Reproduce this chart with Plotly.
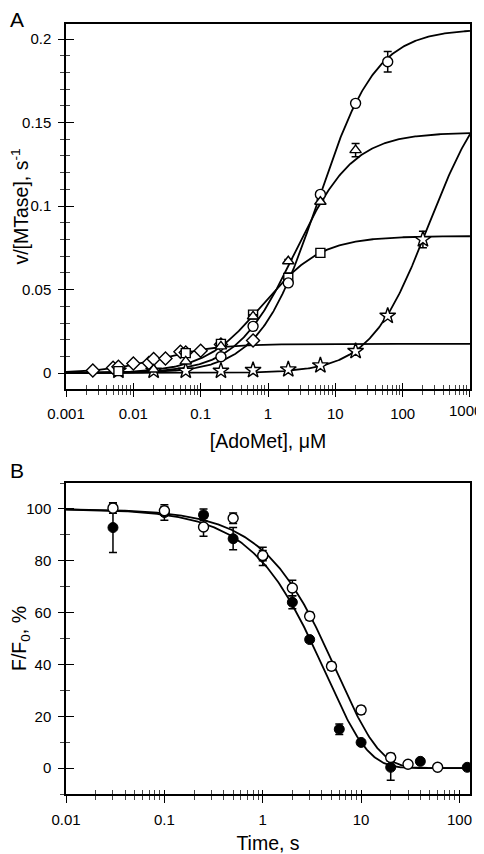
import numpy as np
import plotly.graph_objects as go

# ---------------- Panel A data ----------------
circ_x = [0.2, 0.6, 2, 6, 20, 60]
circ_y = [0.0098, 0.028, 0.054, 0.107, 0.1615, 0.1864]
circ_e = [0.0, 0.002, 0.002, 0.001, 0.001, 0.0062]

tri_x = [0.02, 0.06, 0.2, 0.6, 2, 6, 20]
tri_y = [0.0022, 0.007, 0.016, 0.034, 0.067, 0.1026, 0.1335]
tri_e = [0, 0, 0, 0.001, 0.001, 0.001, 0.004]

sq_x = [0.006, 0.06, 0.2, 0.6, 2, 6]
sq_y = [0.0012, 0.012, 0.0175, 0.035, 0.057, 0.072]
sq_e = [0, 0, 0, 0.001, 0.003, 0.001]

dia_x = [0.0025, 0.005, 0.006, 0.01, 0.017, 0.02, 0.03, 0.05, 0.06, 0.1, 0.2, 0.6]
dia_y = [0.0016, 0.0032, 0.0038, 0.0058, 0.006, 0.0084, 0.0088, 0.0128, 0.0124, 0.0134, 0.0172, 0.0196]

star_x = [0.006, 0.02, 0.06, 0.2, 0.6, 2, 6, 20, 60, 200]
star_y = [0.0014, 0.0014, 0.0014, 0.0014, 0.0018, 0.0022, 0.0046, 0.0132, 0.0343, 0.080]
star_e = [0, 0, 0, 0, 0, 0, 0, 0, 0.001, 0.005]

# hyperbolic fit parameters (Vmax, K) for the fitted curves
fit_vmax = {"circle": 0.206, "triangle": 0.144, "square": 0.082, "diamond": 0.0175, "star": 0.178}
fit_k = {"circle": 5.5, "triangle": 2.5, "square": 0.83, "diamond": 0.025, "star": 245}

xA_ticks = [0.001, 0.01, 0.1, 1, 10, 100, 1000]
xA_labels = ["0.001", "0.01", "0.1", "1", "10", "100", ""]
xA_last_label = "1000"
yA_ticks = [0, 0.05, 0.1, 0.15, 0.2]
yA_labels = ["0", "0.05", "0.1", "0.15", "0.2"]

# ---------------- Panel B data ----------------
open_t = [0.03, 0.1, 0.25, 0.5, 1, 2, 3, 5, 10, 20, 30, 60]
open_y = [100.3, 99.3, 93, 96.4, 82, 69.5, 58.6, 39.3, 22.4, 4.1, 1.5, 0.3]
open_e = [2, 1.5, 3.5, 2, 2, 3, 1.5, 1.5, 1.5, 1.5, 0.5, 0.5]

fill_t = [0.03, 0.1, 0.25, 0.5, 1, 2, 3, 6, 10, 20, 40, 120]
fill_y = [92.8, 98.6, 97.7, 88.5, 81.7, 64, 49.6, 15, 9.9, 0.3, 2.6, 0.3]
fill_e = [9.6, 3, 2.3, 4.3, 3.5, 2.5, 1, 2, 1, 5, 1, 0.5]

# exponential decay rate constants for fitted curves
k_open = 0.175
k_fill = 0.231

xB_ticks = [0.01, 0.1, 1, 10, 100]
xB_labels = ["0.01", "0.1", "1", "10", "100"]
yB_ticks = [0, 20, 40, 60, 80, 100]
yB_labels = ["0", "20", "40", "60", "80", "100"]

FONT = "Liberation Sans, Arial, sans-serif"
fig = go.Figure()

# fitted curves, panel A
xc = np.logspace(-3, 3, 400)
for name in ["circle", "triangle", "square", "diamond", "star"]:
    yc = fit_vmax[name] * xc / (fit_k[name] + xc)
    fig.add_trace(go.Scatter(x=xc, y=yc, mode="lines", line=dict(color="black", width=1.8),
                             xaxis="x", yaxis="y", showlegend=False, hoverinfo="skip"))

def err(vals):
    return dict(type="data", array=vals, visible=True, color="black", thickness=1.5, width=4)

mk = dict(color="white", line=dict(color="black", width=1.4))
fig.add_trace(go.Scatter(x=star_x, y=star_y, mode="markers", error_y=err(star_e),
                         marker=dict(symbol="star", size=12, **mk), xaxis="x", yaxis="y", showlegend=False))
fig.add_trace(go.Scatter(x=dia_x, y=dia_y, mode="markers",
                         marker=dict(symbol="diamond", size=10, **mk), xaxis="x", yaxis="y", showlegend=False))
fig.add_trace(go.Scatter(x=sq_x, y=sq_y, mode="markers", error_y=err(sq_e),
                         marker=dict(symbol="square", size=9, **mk), xaxis="x", yaxis="y", showlegend=False))
fig.add_trace(go.Scatter(x=circ_x, y=circ_y, mode="markers", error_y=err(circ_e),
                         marker=dict(symbol="circle", size=10, **mk), xaxis="x", yaxis="y", showlegend=False))
fig.add_trace(go.Scatter(x=tri_x, y=tri_y, mode="markers", error_y=err(tri_e),
                         marker=dict(symbol="triangle-up", size=10, **mk), xaxis="x", yaxis="y", showlegend=False))

# panel B curves
tc = np.logspace(-2, np.log10(130), 400)
for kk in [k_fill, k_open]:
    fig.add_trace(go.Scatter(x=tc, y=100 * np.exp(-kk * tc), mode="lines",
                             line=dict(color="black", width=1.8), xaxis="x2", yaxis="y2",
                             showlegend=False, hoverinfo="skip"))
fig.add_trace(go.Scatter(x=fill_t, y=fill_y, mode="markers", error_y=err(fill_e),
                         marker=dict(symbol="circle", size=10, color="black", line=dict(color="black", width=1)),
                         xaxis="x2", yaxis="y2", showlegend=False))
fig.add_trace(go.Scatter(x=open_t, y=open_y, mode="markers", error_y=err(open_e),
                         marker=dict(symbol="circle", size=10, **mk), xaxis="x2", yaxis="y2", showlegend=False))

# invisible traces hosting overlay axes (inner halves of crossing ticks)
fig.add_trace(go.Scatter(x=[1], y=[0.1], mode="markers", marker=dict(opacity=0), xaxis="x3", yaxis="y3",
                         showlegend=False, hoverinfo="skip"))
fig.add_trace(go.Scatter(x=[1], y=[50], mode="markers", marker=dict(opacity=0), xaxis="x4", yaxis="y4",
                         showlegend=False, hoverinfo="skip"))

def log_minor(lo, hi):
    vals = []
    for d in range(lo, hi):
        for m in range(2, 10):
            vals.append(m * 10.0 ** d)
    return vals

tickf = dict(family=FONT, size=15, color="black")
titf = dict(family=FONT, size=19.5, color="black")

# page body has an 8px margin, so the figure is 8px smaller than the window
W, H = 476, 846
ML, MT, MR, MB = 58, 16, 14, 60
PH = H - MT - MB
PW = W - ML - MR
domA = [(H - 381 - MB) / PH, 1.0]
domB = [0.0, (H - 475 - MB) / PH]

xrA = [-3.0004, 3.0004]
yrA = [-0.0095, 0.209]
xrB = [-2.0004, np.log10(128)]
yrB = [-10, 110]

minA = log_minor(-3, 3)
minB = log_minor(-2, 3)

common_line = dict(showline=True, linecolor="black", linewidth=1.5, showgrid=False, zeroline=False,
                   automargin=False, ticklabeloverflow="allow")
ovl = dict(showgrid=False, zeroline=False, showline=False, showticklabels=False, automargin=False)

fig.update_layout(
    width=W, height=H, plot_bgcolor="white", paper_bgcolor="white",
    margin=dict(l=ML, r=MR, t=MT, b=MB),
    xaxis=dict(type="log", range=xrA, domain=[0, 1], anchor="y", mirror=True,
               tickmode="array", tickvals=xA_ticks, ticktext=xA_labels,
               ticks="outside", ticklen=6, tickwidth=1.2, tickcolor="black", tickfont=tickf,
               ticklabelstandoff=4,
               minor=dict(tickmode="array", tickvals=minA, ticks="outside", ticklen=4, tickcolor="#444"),
               title=dict(text="[AdoMet], μM", font=titf, standoff=14), **common_line),
    yaxis=dict(range=yrA, domain=domA, anchor="x", mirror=True,
               tickmode="array", tickvals=yA_ticks, ticktext=yA_labels,
               ticks="outside", ticklen=6, tickwidth=1.2, tickcolor="black", tickfont=tickf,
               ticklabelstandoff=4,
               minor=dict(ticks="outside", ticklen=4, tickcolor="#444", dtick=0.01, tick0=0),
               title=dict(text="v/[MTase], s<sup>-1</sup>", font=titf, standoff=4), **common_line),
    xaxis3=dict(type="log", range=xrA, domain=[0, 1], anchor="y3", overlaying="x",
                tickmode="array", tickvals=xA_ticks,
                ticks="inside", ticklen=6, tickwidth=1.2, tickcolor="black",
                minor=dict(tickmode="array", tickvals=minA, ticks="inside", ticklen=4, tickcolor="#444"), **ovl),
    yaxis3=dict(range=yrA, domain=domA, anchor="x3", overlaying="y",
                tickmode="array", tickvals=yA_ticks,
                ticks="inside", ticklen=8, tickwidth=1.2, tickcolor="black",
                minor=dict(ticks="inside", ticklen=4, tickcolor="#444", dtick=0.01, tick0=0), **ovl),
    xaxis2=dict(type="log", range=xrB, domain=[0, 1], anchor="y2", mirror=True,
                tickmode="array", tickvals=xB_ticks, ticktext=xB_labels,
                ticks="outside", ticklen=7, tickwidth=1.2, tickcolor="black", tickfont=tickf,
                ticklabelstandoff=4,
                minor=dict(tickmode="array", tickvals=minB, ticks="outside", ticklen=4, tickcolor="#444"),
                title=dict(text="Time, s", font=titf, standoff=12), **common_line),
    yaxis2=dict(range=yrB, domain=domB, anchor="x2", mirror=True,
                tickmode="array", tickvals=yB_ticks, ticktext=yB_labels,
                ticks="outside", ticklen=6, tickwidth=1.2, tickcolor="black", tickfont=tickf,
                ticklabelstandoff=4,
                minor=dict(ticks="outside", ticklen=4, tickcolor="#444", dtick=10, tick0=0),
                title=dict(text="F/F<sub>0</sub>, %", font=titf, standoff=6), **common_line),
    xaxis4=dict(type="log", range=xrB, domain=[0, 1], anchor="y4", overlaying="x2",
                tickmode="array", tickvals=xB_ticks,
                ticks="inside", ticklen=4, tickwidth=1.2, tickcolor="black",
                minor=dict(tickmode="array", tickvals=minB, ticks="inside", ticklen=4, tickcolor="#444"), **ovl),
    yaxis4=dict(range=yrB, domain=domB, anchor="x4", overlaying="y2",
                tickmode="array", tickvals=yB_ticks,
                ticks="inside", ticklen=8, tickwidth=1.2, tickcolor="black",
                minor=dict(ticks="inside", ticklen=4, tickcolor="#444", dtick=10, tick0=0), **ovl),
)
# last x tick label of panel A, right-aligned so it stays inside the page
fig.add_annotation(text=xA_last_label, xref="paper", yref="paper", x=(W - ML) / PW, y=domA[0],
                   xanchor="right", yanchor="top", yshift=-11, showarrow=False,
                   font=tickf)
fig.add_annotation(text="A", xref="paper", yref="paper", x=-ML / PW, y=1 + MT / PH,
                   xanchor="left", yanchor="top", showarrow=False, yshift=2,
                   font=dict(family=FONT, size=21, color="black"))
fig.add_annotation(text="B", xref="paper", yref="paper", x=-ML / PW, y=(H - MB - 462) / PH,
                   xanchor="left", yanchor="middle", showarrow=False,
                   font=dict(family=FONT, size=21, color="black"))

fig.write_html("out.html")
